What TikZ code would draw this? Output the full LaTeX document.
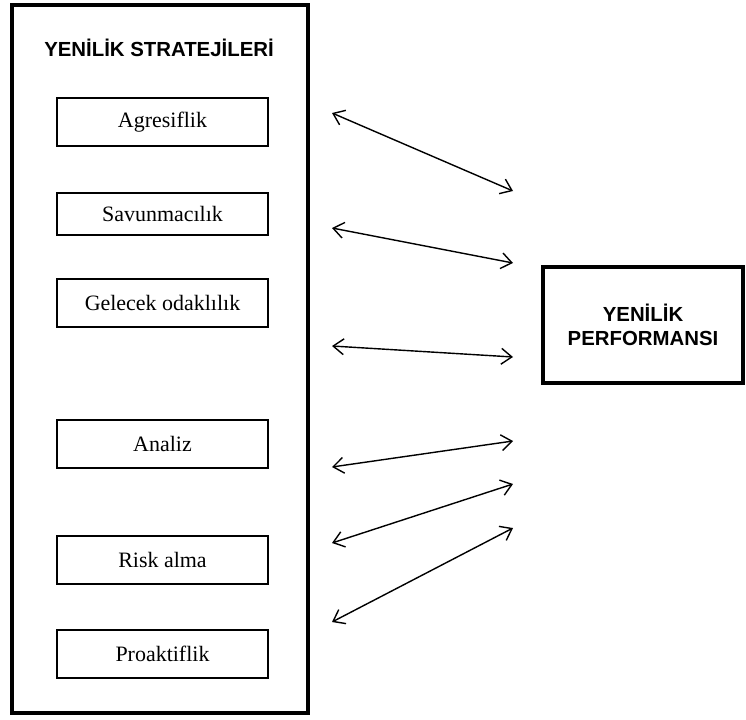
\documentclass[tikz,border=0pt]{standalone}
\usepackage{fontspec}
\setmainfont{Liberation Serif}
\setsansfont{Liberation Sans}
\usetikzlibrary{arrows.meta,positioning}

\begin{document}
\begin{tikzpicture}[x=0.02cm,y=-0.02cm,
  box/.style={draw,line width=1.5pt,minimum width=4.22cm,minimum height=0.96cm,inner sep=0pt,font=\fontsize{12.5}{15}\selectfont},
  frame/.style={draw,line width=2.6pt,inner sep=0pt},
  hd/.style={font=\sffamily\bfseries\fontsize{11.6}{13.7}\selectfont,align=center},
  link/.style={{Straight Barb[length=6pt,width=9pt]}-{Straight Barb[length=6pt,width=9pt]},line width=0.8pt}]
  \useasboundingbox (0,0) rectangle (746,719);
  % left frame with the strategies
  \node[frame,minimum width=5.92cm,minimum height=14.16cm](strat) at (160,359){};
  \node[hd](title) at (159,48){YENİLİK STRATEJİLERİ};
  \node[box](ag) at (162.5,122){Agresiflik};
  \node[box,minimum height=0.84cm](sv) at (162.5,214){Savunmacılık};
  \node[box](go) at (162.5,303){Gelecek odaklılık};
  \node[box](an) at (162.5,444){Analiz};
  \node[box](ra) at (162.5,560){Risk alma};
  \node[box](pr) at (162.5,654){Proaktiflik};
  % right box
  \node[frame,hd,minimum width=4cm,minimum height=2.32cm](perf) at (643,325){YENİLİK\\PERFORMANSI};
  % arrow ends
  \coordinate (l1) at (332,113); \coordinate (r1) at (513,191);
  \coordinate (l2) at (332,228); \coordinate (r2) at (513,263);
  \coordinate (l3) at (332,346); \coordinate (r3) at (513,357);
  \coordinate (l4) at (332,467); \coordinate (r4) at (513,441);
  \coordinate (l5) at (332,543); \coordinate (r5) at (513,484);
  \coordinate (l6) at (332,622); \coordinate (r6) at (513,528);
  \draw[link] (l1)--(r1);
  \draw[link] (l2)--(r2);
  \draw[link] (l3)--(r3);
  \draw[link] (l4)--(r4);
  \draw[link] (l5)--(r5);
  \draw[link] (l6)--(r6);
\end{tikzpicture}
\end{document}
